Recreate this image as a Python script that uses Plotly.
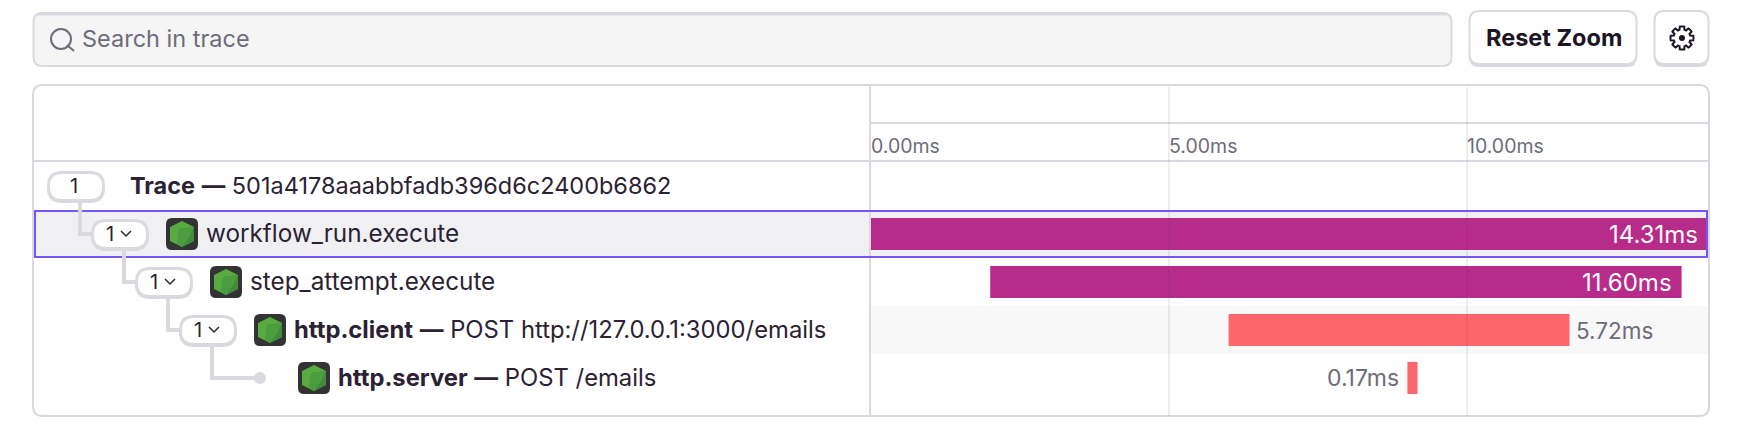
import math
import plotly.graph_objects as go

WIDTH = 1742
HEIGHT = 441
FONT = "Inter"

# trace data
span_names = ["Trace", "workflow_run.execute", "step_attempt.execute", "http.client", "http.server"]
span_descriptions = ["501a4178aaabbfadb396d6c2400b6862", "", "", "POST http://127.0.0.1:3000/emails", "POST /emails"]
span_starts = [None, 0.0, 2.0, 6.0, 9.0]
span_durations = [None, 14.31, 11.60, 5.72, 0.17]
span_labels = ["", "14.31ms", "11.60ms", "5.72ms", "0.17ms"]
child_counts = ["1", "1", "1", "1", ""]
tick_values = [0, 5, 10]
tick_labels = ["0.00ms", "5.00ms", "10.00ms"]

# style per row
bar_colors = ["#b72c8b", "#b72c8b", "#b72c8b", "#fd676b", "#fd676b"]
label_sides = ["", "inside", "inside", "right", "left"]

BORDER = "#dbd9df"
DARK = "#2b2233"
MUTED = "#6e6b7a"
PURPLE = "#7553ff"

ROW_TOP = 162
ROW_H = 48
PLOT_LEFT = 871
PLOT_RIGHT = 1708
PX_PER_MS = 59.6


def X(px):
    return px / WIDTH


def Y(py):
    return 1 - py / HEIGHT


def row_center(i):
    return ROW_TOP + ROW_H * i + ROW_H / 2


def round_path(x0, y0, x1, y1, r):
    p = f"M {X(x0 + r)} {Y(y0)} L {X(x1 - r)} {Y(y0)} "
    p += f"Q {X(x1)} {Y(y0)} {X(x1)} {Y(y0 + r)} L {X(x1)} {Y(y1 - r)} "
    p += f"Q {X(x1)} {Y(y1)} {X(x1 - r)} {Y(y1)} L {X(x0 + r)} {Y(y1)} "
    p += f"Q {X(x0)} {Y(y1)} {X(x0)} {Y(y1 - r)} L {X(x0)} {Y(y0 + r)} "
    p += f"Q {X(x0)} {Y(y0)} {X(x0 + r)} {Y(y0)} Z"
    return p


def poly_path(points):
    return "M " + " L ".join(f"{X(a)} {Y(b)}" for a, b in points) + " Z"


def line_path(points):
    return "M " + " L ".join(f"{X(a)} {Y(b)}" for a, b in points)


shapes = []


def add_path(path, fill="rgba(0,0,0,0)", line=None, lw=0, layer="below"):
    shapes.append(dict(type="path", xref="paper", yref="paper", path=path, fillcolor=fill,
                       line=dict(color=line or "rgba(0,0,0,0)", width=lw), layer=layer))


def add_box(x0, y0, x1, y1, r, fill="white", lip=3):
    # buttons have a thicker bottom edge
    add_path(round_path(x0, y0 + 2, x1, y1 + lip - 1, r), fill=BORDER, layer="above")
    add_path(round_path(x0 + 0.5, y0, x1 - 0.5, y1 - 1, r), fill=fill, line=BORDER, lw=2, layer="above")


def add_icon(cx, cy):
    add_path(round_path(cx - 16, cy - 16, cx + 16, cy + 16, 6), fill="#333333", layer="above")
    hexagon = [(cx, cy - 13), (cx + 12, cy - 7), (cx + 12, cy + 7), (cx, cy + 13), (cx - 12, cy + 7), (cx - 12, cy - 7)]
    add_path(poly_path(hexagon), fill="#57ab41", layer="above")
    add_path(poly_path([(cx - 3, cy - 5), (cx + 12, cy - 7), (cx + 12, cy + 7), (cx, cy + 13), (cx - 5, cy + 10)]),
             fill="#3f8a3c", layer="above")
    add_path(poly_path([(cx - 3, cy - 5), (cx + 12, cy - 7), (cx + 6, cy + 5), (cx, cy + 13), (cx - 5, cy + 10)]),
             fill="#4c9d3e", layer="above")


# panel, rows and dividers
add_path(round_path(33, 85, 1709, 416, 10), fill="white", line=BORDER, lw=2)
add_path(line_path([(34, 161), (1708, 161)]), line=BORDER, lw=2)
add_path(line_path([(870, 123), (1708, 123)]), line=BORDER, lw=2)
shapes.append(dict(type="rect", xref="paper", yref="paper", x0=X(34), x1=X(1707), y0=Y(257), y1=Y(211),
                   fillcolor="#f0f0f3", line_width=0, layer="below"))
shapes.append(dict(type="rect", xref="paper", yref="paper", x0=X(871), x1=X(1708), y0=Y(354), y1=Y(306),
                   fillcolor="#f8f8f8", line_width=0, layer="below"))

# gridlines sit on top of the bars
for t in tick_values[1:]:
    shapes.append(dict(type="line", xref="x", yref="paper", x0=t, x1=t, y0=Y(416), y1=Y(87),
                       line=dict(color="rgba(60,50,90,0.09)", width=2), layer="above"))
add_path(line_path([(870, 86), (870, 415)]), line=BORDER, lw=2, layer="above")

# selected row outline
shapes.append(dict(type="rect", xref="paper", yref="paper", x0=X(35), x1=X(1707), y0=Y(257), y1=Y(211),
                   fillcolor="rgba(0,0,0,0)", line=dict(color=PURPLE, width=2), layer="above"))

# search box and buttons
add_box(33, 13, 1452, 67, 9, fill="#f5f5f6", lip=0)
add_path(line_path([(38, 14), (1447, 14)]), line=BORDER, lw=3, layer="above")
add_box(1469, 11, 1637, 65, 10)
add_box(1654, 11, 1709, 65, 10)

# search icon
shapes.append(dict(type="circle", xref="paper", yref="paper", x0=X(51), x1=X(71), y0=Y(49), y1=Y(29),
                   line=dict(color=MUTED, width=2), layer="above"))
add_path(line_path([(67, 45), (74, 51)]), line=MUTED, lw=2, layer="above")

# gear icon
gear = []
for k in range(64):
    a = 2 * math.pi * k / 64
    r = 11.5 if math.cos(8 * a) > -0.2 else 8.5
    gear.append((1682 + r * math.cos(a), 38 + r * math.sin(a)))
add_path(poly_path(gear), line="#1d1527", lw=2, layer="above")
shapes.append(dict(type="circle", xref="paper", yref="paper", x0=X(1679), x1=X(1685), y0=Y(41), y1=Y(35),
                   fillcolor="#1d1527", line_width=0, layer="above"))

# tree connectors, pills and icons
INDENT = 44
for i in range(1, 5):
    lx = 80 + INDENT * (i - 1)
    cy = row_center(i)
    if i < 4:
        end = 47 + INDENT * i
    else:
        end = 260
    add_path(line_path([(lx, row_center(i - 1) + 14), (lx, cy), (end, cy)]), line=BORDER, lw=4, layer="above")
shapes.append(dict(type="circle", xref="paper", yref="paper", x0=X(254), x1=X(266), y0=Y(384), y1=Y(372),
                   fillcolor=BORDER, line_width=0, layer="above"))

annotations = []


def add_text(x, y, text, size=23.5, color=DARK, anchor="left"):
    annotations.append(dict(xref="paper", yref="paper", x=X(x), y=Y(y), text=text, showarrow=False,
                            xanchor=anchor, yanchor="middle", font=dict(family=FONT, size=size, color=color)))


for i, name in enumerate(span_names):
    cy = row_center(i)
    px0 = 47 + INDENT * i
    if child_counts[i]:
        add_path(round_path(px0, cy - 15, px0 + 58, cy + 17, 15), fill=BORDER, layer="above")
        add_path(round_path(px0 + 3, cy - 12, px0 + 55, cy + 13, 12), fill="white", layer="above")
    if i == 0:
        add_text(px0 + 27, cy, child_counts[i], size=20, anchor="center")
        add_text(128, cy - 1, f"<b>{name}</b> <b>—</b> {span_descriptions[i]}")
        continue
    if child_counts[i]:
        add_text(px0 + 19, cy, child_counts[i], size=20, anchor="center")
        chev = px0 + 35
        add_path(line_path([(chev - 5, cy - 3), (chev, cy + 2), (chev + 5, cy - 3)]), line=DARK, lw=1.5, layer="above")
    add_icon(px0 + 91, cy)
    if span_descriptions[i]:
        add_text(px0 + 113, cy - 1, f"<b>{name}</b> <b>—</b> {span_descriptions[i]}", size=23.8)
    else:
        add_text(px0 + 113, cy - 1, name, size=24.3)

add_text(80, 39, "Search in trace", color=MUTED)
add_text(1553.5, 38, "<b>Reset Zoom</b>", size=23.5, color="#1d1527", anchor="center")

x_max = (PLOT_RIGHT - PLOT_LEFT) / PX_PER_MS

# duration labels
for i, label in enumerate(span_labels):
    if not label:
        continue
    side = label_sides[i]
    end = min(span_starts[i] + span_durations[i], x_max)
    if side == "inside":
        pos, anchor, shift, color, size = end, "right", -8, "white", 24
    elif side == "right":
        pos, anchor, shift, color, size = end, "left", 4, MUTED, 22.5
    else:
        pos, anchor, shift, color, size = span_starts[i], "right", -6, MUTED, 23
    annotations.append(dict(xref="x", yref="y", x=pos, y=span_names[i], text=label, showarrow=False,
                            xanchor=anchor, yanchor="middle", xshift=shift,
                            font=dict(family=FONT, size=size, color=color)))

fig = go.Figure()
fig.add_trace(go.Bar(
    y=span_names,
    x=span_durations,
    base=span_starts,
    orientation="h",
    width=32 / ROW_H,
    marker=dict(color=bar_colors, line_width=0),
    hoverinfo="skip",
))

fig.update_layout(
    width=WIDTH,
    height=HEIGHT,
    margin=dict(l=0, r=0, t=0, b=0),
    paper_bgcolor="white",
    plot_bgcolor="rgba(0,0,0,0)",
    showlegend=False,
    shapes=shapes,
    annotations=annotations,
    xaxis=dict(
        domain=[X(PLOT_LEFT), X(PLOT_RIGHT)],
        range=[0, x_max],
        anchor="free",
        position=Y(132),
        tickmode="array",
        tickvals=tick_values,
        ticktext=tick_labels,
        ticks="",
        ticklabelposition="outside right",
        tickfont=dict(family=FONT, size=19.5, color=MUTED),
        showgrid=False,
        zeroline=False,
        showline=False,
    ),
    yaxis=dict(
        domain=[Y(416), Y(85)],
        type="category",
        categoryorder="array",
        categoryarray=span_names,
        range=[(416 - row_center(0)) / ROW_H, (85 - row_center(0)) / ROW_H],
        showticklabels=False,
        ticks="",
        showgrid=False,
        zeroline=False,
        showline=False,
    ),
)

fig.write_html("out.html", config={"displayModeBar": False},
               post_script="document.body.style.margin='0';")
